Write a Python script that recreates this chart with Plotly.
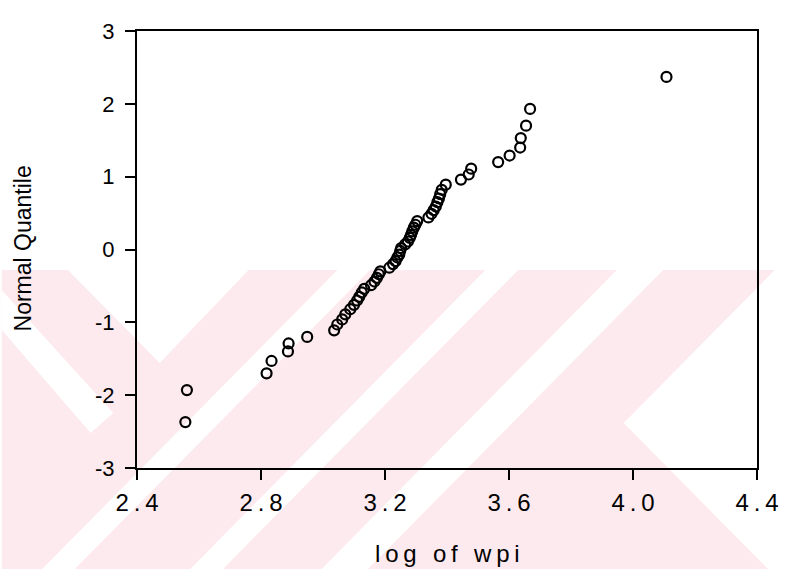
import plotly.graph_objects as go

# ---- data ----
log_wpi = [
    2.556, 2.561, 2.818, 2.834, 2.887, 2.889, 2.949, 3.036, 3.046, 3.062,
    3.072, 3.088, 3.100, 3.110, 3.117, 3.125, 3.133, 3.155, 3.166, 3.174,
    3.180, 3.185, 3.214, 3.226, 3.234, 3.240, 3.246, 3.249, 3.252, 3.265,
    3.274, 3.280, 3.284, 3.288, 3.293, 3.298, 3.304, 3.340, 3.350, 3.357,
    3.364, 3.369, 3.374, 3.378, 3.383, 3.396, 3.445, 3.470, 3.478, 3.565,
    3.602, 3.636, 3.638, 3.655, 3.668, 4.108,
]
normal_quantile = [
    -2.37, -1.93, -1.70, -1.53, -1.40, -1.29, -1.20, -1.11, -1.03, -0.96,
    -0.89, -0.82, -0.76, -0.70, -0.65, -0.59, -0.54, -0.49, -0.44, -0.39,
    -0.34, -0.30, -0.25, -0.20, -0.16, -0.11, -0.07, -0.02, 0.02, 0.07,
    0.11, 0.16, 0.20, 0.25, 0.30, 0.34, 0.39, 0.44, 0.49, 0.54,
    0.59, 0.65, 0.70, 0.76, 0.82, 0.89, 0.96, 1.03, 1.11, 1.20,
    1.29, 1.40, 1.53, 1.70, 1.93, 2.37,
]
x_ticks = [2.4, 2.8, 3.2, 3.6, 4.0, 4.4]
x_ticklabels = ["2.4", "2.8", "3.2", "3.6", "4.0", "4.4"]
y_ticks = [-3, -2, -1, 0, 1, 2, 3]
y_ticklabels = ["-3", "-2", "-1", "0", "1", "2", "3"]
x_title = "log of wpi"
y_title = "Normal Quantile"

W, H = 790, 569
L, R, T, B = 137, 765, 31, 468
FONT = "Liberation Sans, Arial, sans-serif"
THIN = "\u2009"


def spaced(s):
    return THIN.join(list(s))


def pp(x, y):
    """pixel -> paper coordinates"""
    return (x - L) / (R - L), (B - y) / (B - T)


def poly(points, color):
    parts = []
    for i, (x, y) in enumerate(points):
        px, py = pp(x, y)
        parts.append(("M" if i == 0 else "L") + f"{px:.5f},{py:.5f}")
    return dict(type="path", xref="paper", yref="paper", path=" ".join(parts) + " Z",
                fillcolor=color, line=dict(width=0), layer="below")


PINK = "#fdeaee"
shapes = [
    poly([(0, 270), (783, 270), (783, 569), (0, 569)], PINK),
    # white chevron (upper left)
    poly([(67, 270), (250, 270), (160, 363)], "white"),
    # white "\" band on the left
    poly([(0, 290), (0, 330), (90, 433), (113, 413)], "white"),
    # white "/" bands
    poly([(340, 270), (373, 270), (74, 569), (41, 569)], "white"),
    poly([(490, 270), (523, 270), (224, 569), (191, 569)], "white"),
    poly([(623, 270), (670, 270), (371, 569), (324, 569)], "white"),
    # white region lower right
    poly([(630, 423), (783, 270), (790, 270), (790, 583)], "white"),
]

fig = go.Figure()
fig.add_trace(go.Scatter(
    x=log_wpi, y=normal_quantile, mode="markers",
    marker=dict(symbol="circle-open", size=10, color="black", line=dict(width=2.2, color="black")),
    showlegend=False, hoverinfo="x+y",
))

fig.update_layout(
    width=W, height=H,
    margin=dict(l=L, r=W - R, t=T, b=H - B, pad=0),
    paper_bgcolor="white",
    plot_bgcolor="rgba(0,0,0,0)",
    shapes=shapes,
    font=dict(family=FONT, color="black"),
    xaxis=dict(
        range=[2.4, 4.4], showgrid=False, zeroline=False,
        showline=True, linecolor="black", linewidth=2, mirror=True,
        ticks="outside", ticklen=10, tickwidth=2, tickcolor="black",
        tickvals=x_ticks, ticktext=[spaced(t) for t in x_ticklabels],
        tickfont=dict(family=FONT, size=24, color="black"),
        ticklabelstandoff=2,
    ),
    yaxis=dict(
        range=[-3, 3], showgrid=False, zeroline=False,
        showline=True, linecolor="black", linewidth=2, mirror=True,
        ticks="outside", ticklen=10, tickwidth=2, tickcolor="black",
        tickvals=y_ticks, ticktext=y_ticklabels,
        tickfont=dict(family=FONT, size=22, color="black"),
        ticklabelstandoff=6,
    ),
    annotations=[
        dict(text=spaced(x_title), xref="paper", yref="paper",
             x=pp(452, 553)[0], y=pp(452, 553)[1], xanchor="center", yanchor="middle",
             showarrow=False, font=dict(family=FONT, size=24, color="black")),
        dict(text=y_title, xref="paper", yref="paper",
             x=pp(22, 248)[0], y=pp(22, 248)[1], xanchor="center", yanchor="middle",
             textangle=-90, showarrow=False, font=dict(family=FONT, size=23, color="black")),
    ],
)

fig.write_html("out.html")
